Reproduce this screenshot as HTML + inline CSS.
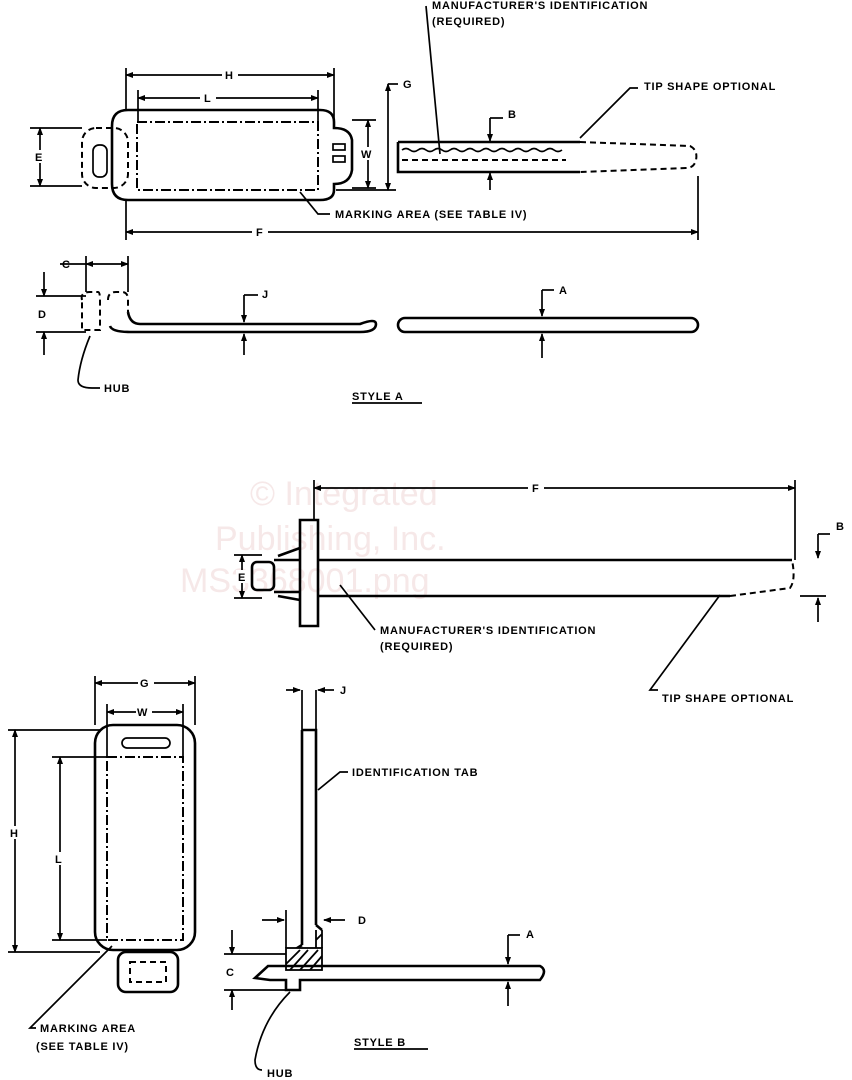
<!DOCTYPE html>
<html><head><meta charset="utf-8"><style>
html,body{margin:0;padding:0;background:#fff;width:852px;height:1080px;overflow:hidden}
svg{display:block}
text{font-family:"Liberation Sans",sans-serif;font-size:11px;font-weight:bold;fill:#000;letter-spacing:0.8px}
.l{stroke:#000;stroke-width:2.6;fill:none}
.t{stroke:#000;stroke-width:1.7;fill:none}
.d{stroke:#000;stroke-width:2;fill:none;stroke-dasharray:10 3 2 3}
.h{stroke:#000;stroke-width:2;fill:none;stroke-dasharray:6 4}
.wm{font-size:34px;font-weight:normal;fill:#f6e8e8;letter-spacing:0}
</style></head><body>
<svg width="852" height="1080" viewBox="0 0 852 1080">
<defs><marker id="a" markerWidth="8" markerHeight="8" refX="7" refY="4" orient="auto-start-reverse" markerUnits="userSpaceOnUse"><path d="M0,1 L8,4 L0,7z" fill="#000"/></marker></defs>
<text class="wm" x="250" y="505">© Integrated</text>
<text class="wm" x="215" y="550">Publishing, Inc.</text>
<text class="wm" x="180" y="592">MS3368001.png</text>

<!-- STYLE A top view -->
<rect x="82" y="128" width="46" height="60" rx="14" class="h"/>
<rect x="93" y="145" width="14" height="32" rx="6" class="t"/>
<path class="l" d="M128,110 H320 Q334,110 334,122 V128 Q350,128 352,140 V170 Q350,184 334,184 V190 Q334,200 320,200 H128 Q112,200 112,184 V126 Q112,110 128,110 Z"/>
<rect x="137" y="122" width="181" height="68" class="d"/>
<rect x="333" y="144" width="12" height="6" class="t"/><rect x="333" y="156" width="12" height="6" class="t"/>
<line class="t" x1="126" y1="75" x2="334" y2="75" marker-start="url(#a)" marker-end="url(#a)"/>
<line class="t" x1="126" y1="68" x2="126" y2="110"/><line class="t" x1="334" y1="68" x2="334" y2="122"/>
<rect x="222" y="68" width="16" height="13" fill="#fff"/><text x="225" y="79">H</text>
<line class="t" x1="138" y1="98" x2="318" y2="98" marker-start="url(#a)" marker-end="url(#a)"/>
<line class="t" x1="138" y1="90" x2="138" y2="122"/><line class="t" x1="318" y1="90" x2="318" y2="122"/>
<rect x="200" y="91" width="16" height="13" fill="#fff"/><text x="204" y="102">L</text>
<line class="t" x1="40" y1="128" x2="40" y2="186" marker-start="url(#a)" marker-end="url(#a)"/>
<line class="t" x1="30" y1="128" x2="82" y2="128"/><line class="t" x1="30" y1="186" x2="82" y2="186"/>
<rect x="33" y="150" width="14" height="13" fill="#fff"/><text x="35" y="161">E</text>
<line class="t" x1="368" y1="120" x2="368" y2="188" marker-start="url(#a)" marker-end="url(#a)"/>
<line class="t" x1="352" y1="120" x2="376" y2="120"/><line class="t" x1="352" y1="188" x2="376" y2="188"/>
<rect x="360" y="147" width="16" height="13" fill="#fff"/><text x="361" y="158">W</text>
<line class="t" x1="388" y1="84" x2="388" y2="190" marker-start="url(#a)" marker-end="url(#a)"/>
<line class="t" x1="336" y1="190" x2="396" y2="190"/>
<line class="t" x1="388" y1="84" x2="398" y2="84"/><text x="403" y="88">G</text>
<path class="l" d="M398,142 H580 M398,142 V172 H580"/>
<path class="h" d="M580,142 L690,146 Q698,150 696,160 Q694,168 686,168 L580,172"/>
<path class="t" d="M402,150 q4,-3 8,0 t8,0 t8,0 t8,0 t8,0 t8,0 t8,0 t8,0 t8,0 t8,0 t8,0 t8,0 t8,0 t8,0 t8,0 t8,0 t8,0 t8,0 t8,0 t8,0"/>
<path class="h" d="M402,160 H566"/>
<line class="t" x1="490" y1="118" x2="490" y2="141" marker-end="url(#a)"/><line class="t" x1="490" y1="118" x2="503" y2="118"/><text x="508" y="118">B</text>
<line class="t" x1="490" y1="190" x2="490" y2="173" marker-end="url(#a)"/>
<text x="432" y="9">MANUFACTURER'S IDENTIFICATION</text>
<text x="432" y="25">(REQUIRED)</text>
<line class="t" x1="426" y1="6" x2="440" y2="154"/>
<text x="644" y="90">TIP SHAPE OPTIONAL</text>
<path class="t" d="M638,88 H630 L580,138"/>
<path class="t" d="M300,192 L318,214 H330"/><text x="335" y="218">MARKING AREA (SEE TABLE IV)</text>
<line class="t" x1="126" y1="232" x2="698" y2="232" marker-start="url(#a)" marker-end="url(#a)"/>
<line class="t" x1="126" y1="200" x2="126" y2="240"/><line class="t" x1="698" y1="176" x2="698" y2="240"/>
<rect x="252" y="225" width="16" height="13" fill="#fff"/><text x="256" y="236">F</text>

<!-- STYLE A side -->
<path class="h" d="M82,300 Q80,292 90,292 H98 Q100,292 100,300 V330 H82 Z"/>
<path class="h" d="M108,300 Q108,292 116,292 H122 Q128,292 128,300 V312"/>
<path class="l" d="M128,312 Q130,324 140,324 H360 Q376,318 376,324 Q376,332 360,332 H130 Q112,332 110,326"/>
<rect x="398" y="318" width="300" height="14" rx="7" class="l"/>
<line class="t" x1="86" y1="264" x2="128" y2="264" marker-start="url(#a)" marker-end="url(#a)"/>
<line class="t" x1="60" y1="264" x2="86" y2="264"/><line class="t" x1="86" y1="256" x2="86" y2="292"/><line class="t" x1="128" y1="256" x2="128" y2="292"/>
<text x="62" y="268">C</text>
<line class="t" x1="44" y1="272" x2="44" y2="296" marker-end="url(#a)"/><line class="t" x1="44" y1="355" x2="44" y2="332" marker-end="url(#a)"/>
<line class="t" x1="36" y1="296" x2="86" y2="296"/><line class="t" x1="36" y1="332" x2="86" y2="332"/>
<text x="38" y="318">D</text>
<line class="t" x1="244" y1="295" x2="244" y2="322" marker-end="url(#a)"/><line class="t" x1="244" y1="295" x2="258" y2="295"/><text x="262" y="298">J</text>
<line class="t" x1="244" y1="355" x2="244" y2="334" marker-end="url(#a)"/>
<line class="t" x1="542" y1="290" x2="542" y2="316" marker-end="url(#a)"/><line class="t" x1="542" y1="290" x2="554" y2="290"/><text x="559" y="294">A</text>
<line class="t" x1="542" y1="358" x2="542" y2="334" marker-end="url(#a)"/>
<path class="t" d="M90,336 Q80,360 78,380 Q78,388 92,388 H100"/><text x="104" y="392">HUB</text>
<text x="352" y="400">STYLE A</text><line class="t" x1="352" y1="403" x2="422" y2="403"/>

<!-- STYLE B side top right -->
<rect x="252" y="562" width="22" height="28" rx="5" class="l"/>
<path class="l" d="M274,560 H300 M274,592 H300"/>
<path class="l" d="M300,520 V626 H318 V520 Z"/>
<path class="l" d="M300,548 L278,556 M300,600 L278,596"/>
<path class="l" d="M318,560 H792 M318,596 H730"/>
<path class="h" d="M730,596 L790,588 Q796,580 792,560"/>
<line class="t" x1="314" y1="488" x2="795" y2="488" marker-start="url(#a)" marker-end="url(#a)"/>
<line class="t" x1="314" y1="480" x2="314" y2="520"/><line class="t" x1="795" y1="480" x2="795" y2="560"/>
<rect x="528" y="481" width="16" height="13" fill="#fff"/><text x="532" y="492">F</text>
<line class="t" x1="242" y1="555" x2="242" y2="598" marker-start="url(#a)" marker-end="url(#a)"/>
<line class="t" x1="234" y1="555" x2="262" y2="555"/><line class="t" x1="234" y1="598" x2="262" y2="598"/>
<rect x="236" y="570" width="14" height="13" fill="#fff"/><text x="238" y="581">E</text>
<line class="t" x1="818" y1="534" x2="818" y2="558" marker-end="url(#a)"/><line class="t" x1="818" y1="534" x2="830" y2="534"/><text x="836" y="530">B</text>
<line class="t" x1="818" y1="622" x2="818" y2="598" marker-end="url(#a)"/><line class="t" x1="800" y1="596" x2="826" y2="596"/>
<path class="t" d="M340,585 L375,630"/><text x="380" y="634">MANUFACTURER'S IDENTIFICATION</text><text x="380" y="650">(REQUIRED)</text>
<path class="t" d="M720,595 L650,690 H658"/><text x="662" y="702">TIP SHAPE OPTIONAL</text>

<!-- STYLE B front bottom left -->
<rect x="95" y="725" width="100" height="225" rx="18" class="l"/>
<rect x="122" y="738" width="48" height="10" rx="5" class="t"/>
<rect x="107" y="757" width="76" height="183" class="d"/>
<rect x="118" y="952" width="60" height="40" rx="8" class="l"/>
<rect x="130" y="962" width="36" height="20" class="h"/>
<line class="t" x1="95" y1="683" x2="195" y2="683" marker-start="url(#a)" marker-end="url(#a)"/>
<line class="t" x1="95" y1="676" x2="95" y2="725"/><line class="t" x1="195" y1="676" x2="195" y2="725"/>
<rect x="138" y="676" width="16" height="13" fill="#fff"/><text x="140" y="687">G</text>
<line class="t" x1="107" y1="712" x2="183" y2="712" marker-start="url(#a)" marker-end="url(#a)"/>
<line class="t" x1="107" y1="704" x2="107" y2="757"/><line class="t" x1="183" y1="704" x2="183" y2="757"/>
<rect x="136" y="705" width="16" height="13" fill="#fff"/><text x="137" y="716">W</text>
<line class="t" x1="15" y1="730" x2="15" y2="952" marker-start="url(#a)" marker-end="url(#a)"/>
<line class="t" x1="8" y1="730" x2="100" y2="730"/><line class="t" x1="8" y1="952" x2="100" y2="952"/>
<rect x="8" y="826" width="14" height="13" fill="#fff"/><text x="10" y="837">H</text>
<line class="t" x1="60" y1="757" x2="60" y2="940" marker-start="url(#a)" marker-end="url(#a)"/>
<line class="t" x1="52" y1="757" x2="107" y2="757"/><line class="t" x1="52" y1="940" x2="107" y2="940"/>
<rect x="53" y="852" width="14" height="13" fill="#fff"/><text x="55" y="863">L</text>
<path class="t" d="M112,946 L30,1028 H36"/><text x="40" y="1032">MARKING AREA</text><text x="36" y="1050">(SEE TABLE IV)</text>

<!-- STYLE B side bottom -->
<path class="l" d="M302,730 H316 V925 M302,730 V945"/>
<path class="l" d="M302,945 L286,955 M316,925 L322,930"/>
<g stroke="#000" stroke-width="1.8">
<rect x="286" y="948" width="36" height="22" fill="#fff"/>
<path d="M290,970 L308,950 M300,970 L318,950 M310,970 L322,956 M286,964 L300,950"/>
<path d="M316,930 V948 M322,930 V948 M316,940 L322,934"/>
</g>
<path class="l" d="M255,978 L268,966 H540 Q548,970 540,980 H300 V990 H286 V980 H270 Z"/>
<line class="t" x1="302" y1="690" x2="302" y2="730"/><line class="t" x1="316" y1="690" x2="316" y2="730"/>
<line class="t" x1="286" y1="690" x2="300" y2="690" marker-end="url(#a)"/><line class="t" x1="334" y1="690" x2="318" y2="690" marker-end="url(#a)"/><text x="340" y="694">J</text>
<path class="t" d="M318,790 L340,772 H348"/><text x="352" y="776">IDENTIFICATION TAB</text>
<line class="t" x1="286" y1="910" x2="286" y2="948"/>
<line class="t" x1="262" y1="920" x2="284" y2="920" marker-end="url(#a)"/><line class="t" x1="345" y1="920" x2="324" y2="920" marker-end="url(#a)"/><text x="358" y="924">D</text>
<line class="t" x1="232" y1="930" x2="232" y2="954" marker-end="url(#a)"/><line class="t" x1="232" y1="1010" x2="232" y2="990" marker-end="url(#a)"/>
<line class="t" x1="224" y1="954" x2="286" y2="954"/><line class="t" x1="224" y1="990" x2="286" y2="990"/>
<text x="226" y="976">C</text>
<line class="t" x1="508" y1="935" x2="508" y2="964" marker-end="url(#a)"/><line class="t" x1="508" y1="935" x2="520" y2="935"/><text x="526" y="938">A</text>
<line class="t" x1="508" y1="1006" x2="508" y2="982" marker-end="url(#a)"/>
<path class="t" d="M290,992 Q262,1020 255,1060 Q255,1070 262,1070"/><text x="267" y="1077">HUB</text>
<text x="354" y="1046">STYLE B</text><line class="t" x1="354" y1="1049" x2="428" y2="1049"/>
</svg>
</body></html>
